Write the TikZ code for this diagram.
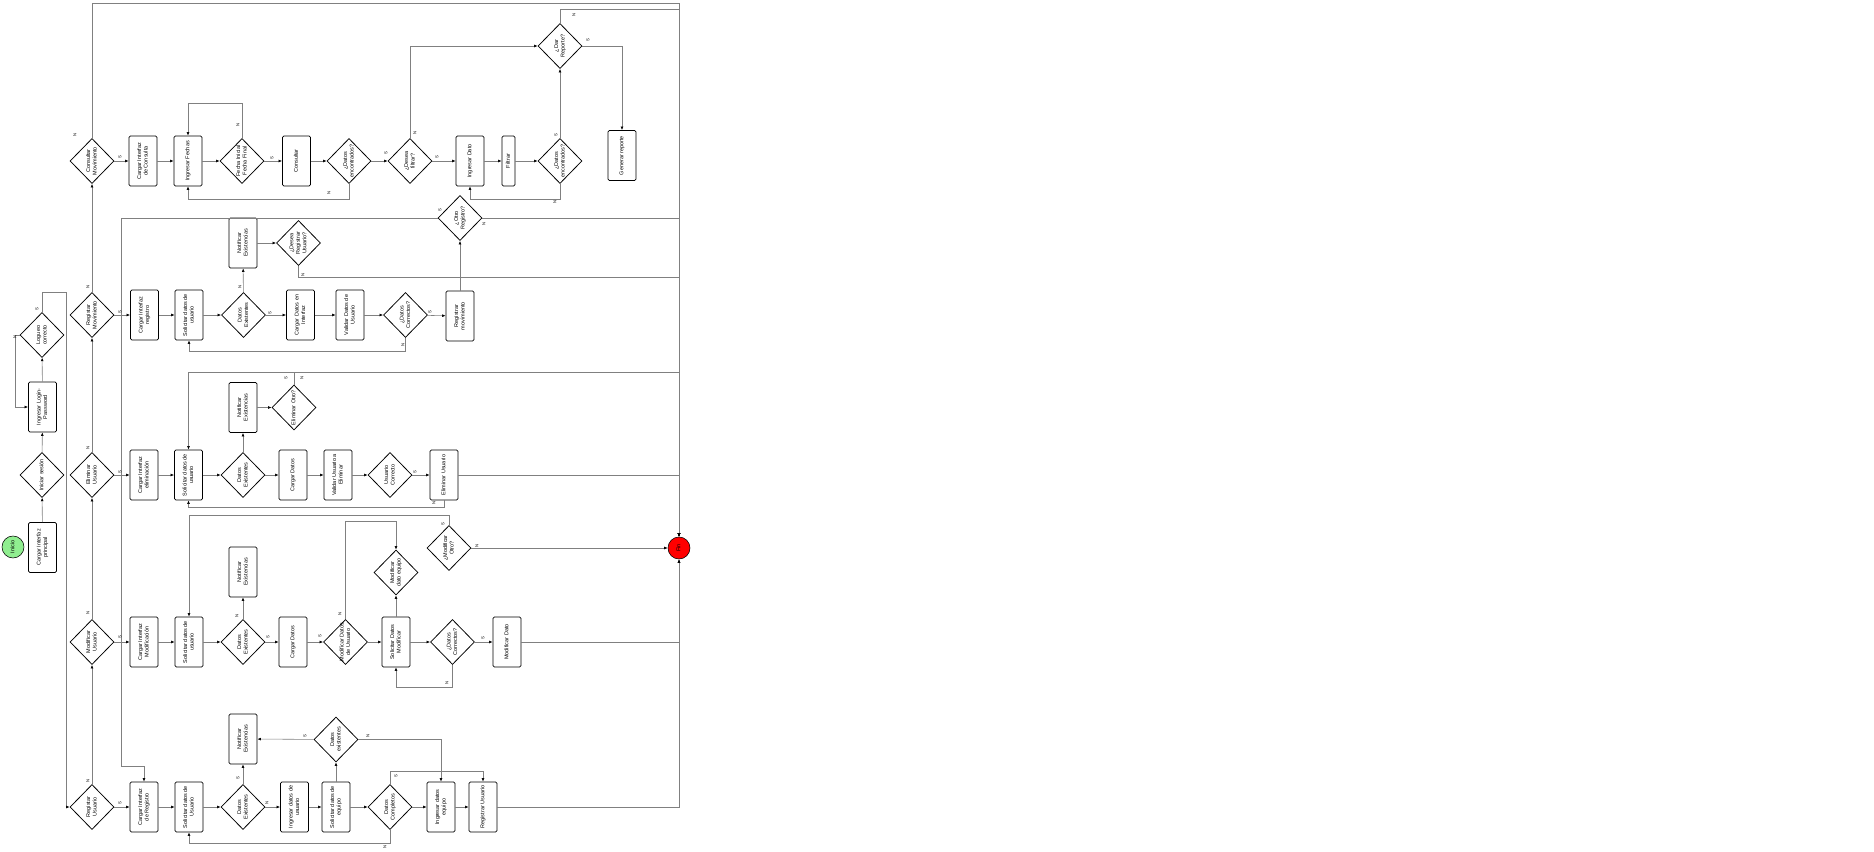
\documentclass[tikz,border=0pt]{standalone}
\usepackage{fontspec}
\setmainfont{Liberation Sans}
\usetikzlibrary{shapes.geometric,arrows.meta}
\definecolor{inigreen}{RGB}{144,238,144}
\definecolor{finred}{RGB}{255,0,0}
\newcommand{\vt}[1]{\makebox[0pt]{\raisebox{-.5\height}[0pt][0pt]{\rotatebox{90}{\begin{tabular}{@{}c@{}}#1\end{tabular}}}}}
\tikzset{
  proc/.style={draw, rectangle, rounded corners=2pt, minimum width=1.4cm, minimum height=2.5cm, inner sep=0pt, line width=1.1pt},
  dec/.style={draw, diamond, minimum width=2.2cm, minimum height=2.25cm, inner sep=0pt, line width=1.1pt},
  term/.style={draw, circle, minimum size=1.1cm, inner sep=0pt, line width=0.8pt},
  ln/.style={draw=gray, line width=0.8pt, -{Latex[length=5pt,width=4pt,color=black]}},
  yn/.style={font=\fontsize{6}{7}\selectfont, rotate=90, inner sep=0pt}
}
\begin{document}
\begin{tikzpicture}[x=0.05cm,y=-0.05cm,font=\fontsize{7.8}{9.3}\selectfont]
\useasboundingbox (0,0) rectangle (1874,852);
% login
\node[term, fill=inigreen] (ini) at (13,547) {\vt{Inicio}};
\node[proc] (cip) at (42.5,547.5) {\vt{Cargar Interfaz\\principal}};
\node[dec] (ise) at (42,475) {\vt{Iniciar sesión}};
\node[proc] (ilp) at (42.5,407) {\vt{Ingresar Login-\\Password}};
\node[dec] (lco) at (42,335) {\vt{Logueo\\correcto}};
% consultar
\node[dec] (cm) at (92,161) {\vt{Consultar\\Movimiento}};
\node[proc] (cic) at (143,161) {\vt{Cargar Interfaz\\de Consulta}};
\node[proc] (ife) at (188,161) {\vt{Ingresar Fechas}};
\node[dec] (ffe) at (242,161) {\vt{Fecha Inicial\\Fecha Final}};
\node[proc] (con) at (296.5,161) {\vt{Consultar}};
\node[dec] (den) at (349,161) {\vt{¿Datos\\encontrados?}};
\node[dec] (dfi) at (410,161) {\vt{¿Desea\\filtrar?}};
\node[proc] (ida) at (470,161) {\vt{Ingresar Dato}};
\node[proc, minimum width=0.65cm] (fil) at (508.5,161) {\vt{Filtrar}};
\node[dec] (den2) at (560,161) {\vt{¿Datos\\encontrados?}};
\node[dec] (dar) at (560,46) {\vt{¿Dar\\Reporte?}};
\node[proc] (gre) at (622,155.5) {\vt{Generar reporte}};
% registrar movimiento
\node[dec] (rm) at (92,315) {\vt{Registar\\Movimiento}};
\node[proc] (cir) at (144.5,315) {\vt{Cargar Interfaz\\registro}};
\node[proc] (sdu1) at (189,315) {\vt{Solicitar datos de\\usuario}};
\node[dec] (dex1) at (243.5,315) {\vt{Datos\\Existentes}};
\node[proc] (nex1) at (243,243) {\vt{Notificar\\Existencias}};
\node[dec] (drg) at (298.5,243) {\vt{¿Desea\\Registrar\\Usuario?}};
\node[proc] (cdi) at (300.5,315) {\vt{Cargar Datos en\\Interfaz}};
\node[proc] (vdu) at (350,315) {\vt{Validar Datos de\\Usuario}};
\node[dec] (dco1) at (405.5,315) {\vt{¿Datos\\Correctos?}};
\node[proc] (rmo) at (460,316) {\vt{Registrar\\movimiento}};
\node[dec] (otr) at (460,218) {\vt{¿Otro\\Registro?}};
% eliminar usuario
\node[dec] (eu) at (92,475) {\vt{Eliminar\\Usuario}};
\node[proc] (cie) at (144,475) {\vt{Cargar Interfaz\\eliminación}};
\node[proc] (sdu2) at (188.5,475) {\vt{Solicitar datos de\\usuario}};
\node[dec] (dex2) at (243,475) {\vt{Datos\\Existentes}};
\node[proc] (nex2) at (243,407.5) {\vt{Notificar\\Existencias}};
\node[dec] (eot) at (294,407.5) {\vt{Eliminar Otro?}};
\node[proc] (cda2) at (293,475) {\vt{Cargar Datos}};
\node[proc] (vue) at (338,475) {\vt{Validar Usuario a\\Eliminar}};
\node[dec] (uco) at (390,475) {\vt{Usuario\\Correcto}};
\node[proc] (elu) at (444,475) {\vt{Eliminar Usuario}};
% modificar usuario
\node[dec] (mu) at (92,642) {\vt{Modificar\\Usuario}};
\node[proc] (cim) at (144,642) {\vt{Cargar Interfaz\\Modificación}};
\node[proc] (sdu3) at (189,642) {\vt{Solicitar datos de\\usuario}};
\node[dec] (dex3) at (243,642) {\vt{Datos\\Existentes}};
\node[proc] (nex3) at (243,572) {\vt{Notificar\\Existencias}};
\node[proc] (cda3) at (293,642) {\vt{Cargar Datos}};
\node[dec] (mdu) at (345.5,642) {\vt{Modificar Datos\\de Usuario}};
\node[proc] (sdm) at (396,642) {\vt{Solicitar Datos\\Modificar}};
\node[dec] (mde) at (396,572.5) {\vt{Modificar\\dato equipo}};
\node[dec] (dco2) at (452.5,642) {\vt{¿Datos\\Correctos?}};
\node[proc] (mda) at (507,642) {\vt{Modificar Dato}};
\node[dec] (mot) at (449,548) {\vt{¿Modificar\\Otro?}};
% registrar usuario
\node[dec] (ru) at (92,807) {\vt{Registar\\Usuario}};
\node[proc] (cire) at (144,807) {\vt{Cargar Interfaz\\de Registro}};
\node[proc] (sdu4) at (189,807) {\vt{Solicitar datos de\\Usuario}};
\node[dec] (dex4) at (243,807) {\vt{Datos\\Existentes}};
\node[proc] (nex4) at (243,739) {\vt{Notificar\\Existencias}};
\node[proc] (idu) at (294.5,807) {\vt{Ingresar datos de\\usuario}};
\node[proc] (sde) at (336,807) {\vt{Solicitar datos de\\equipo}};
\node[dec] (dexe) at (336,739.5) {\vt{Datos\\existentes}};
\node[dec] (dcp) at (390,807) {\vt{Datos\\Completos}};
\node[proc] (ideq) at (441,807) {\vt{Ingresar datos\\equipo}};
\node[proc] (rus) at (483,807) {\vt{Registrar Usuario}};
% fin
\node[term, fill=finred] (fin) at (679,548) {\vt{Fin}};

% login
\draw[ln] (cip) -- (ise);
\draw[ln] (ise) -- (ilp);
\draw[ln] (ilp) -- (lco);
\draw[ln] (lco.west) -- ++(-4,0) |- (ilp.west);
\draw[ln] (lco.north) -- ++(0,-20) -| (66,807) -- (ru.west);
% columna de menu
\draw[ln] (ru) -- (mu);
\draw[ln] (mu) -- (eu);
\draw[ln] (eu) -- (rm);
\draw[ln] (rm) -- (cm);
\draw[ln] (cm.north) |- (679,3) -- (fin.north);
% consultar
\draw[ln] (cm) -- (cic);
\draw[ln] (cic) -- (ife);
\draw[ln] (ife) -- (ffe);
\draw[ln] (ffe) -- (con);
\draw[ln] (ffe.north) -- ++(0,-35) -| (ife.north);
\draw[ln] (con) -- (den);
\draw[ln] (den) -- (dfi);
\draw[ln] (den.south) -- ++(0,15) -| (ife.south);
\draw[ln] (dfi) -- (ida);
\draw[ln] (dfi.north) |- (dar.west);
\draw[ln] (ida) -- (fil);
\draw[ln] (fil) -- (den2);
\draw[ln] (den2) -- (dar);
\draw[ln] (den2.south) -- ++(0,15) -| (ida.south);
\draw[ln] (dar.east) -| (gre.north);
\draw[ln] (dar.north) |- (679,9) -- (fin.north);
% registrar movimiento
\draw[ln] (rm) -- (cir);
\draw[ln] (cir) -- (sdu1);
\draw[ln] (sdu1) -- (dex1);
\draw[ln] (dex1) -- (nex1);
\draw[ln] (nex1) -- (drg);
\draw[ln] (drg.south) |- (679,277) -- (fin.north);
\draw[ln] (dex1) -- (cdi);
\draw[ln] (cdi) -- (vdu);
\draw[ln] (vdu) -- (dco1);
\draw[ln] (dco1) -- (rmo);
\draw[ln] (dco1.south) -- ++(0,13) -| (sdu1.south);
\draw[ln] (rmo) -- (otr);
\draw[ln] (otr.west) -| (121,766) -| (cire.north);
\draw[ln] (otr.east) -| (fin.north);
% eliminar usuario
\draw[ln] (eu) -- (cie);
\draw[ln] (cie) -- (sdu2);
\draw[ln] (sdu2) -- (dex2);
\draw[ln] (dex2) -- (nex2);
\draw[ln] (nex2) -- (eot);
\draw[ln] (eot.north) -- ++(0,-12) -| (sdu2.north);
\draw[ln] (eot.north) -- ++(0,-12) -| (fin.north);
\draw[ln] (dex2) -- (cda2);
\draw[ln] (cda2) -- (vue);
\draw[ln] (vue) -- (uco);
\draw[ln] (uco) -- (elu);
\draw[ln] (elu.south) -- ++(0,7) -| (sdu2.south);
\draw[ln] (elu.east) -| (fin.north);
% modificar usuario
\draw[ln] (mu) -- (cim);
\draw[ln] (cim) -- (sdu3);
\draw[ln] (sdu3) -- (dex3);
\draw[ln] (dex3) -- (nex3);
\draw[ln] (dex3) -- (cda3);
\draw[ln] (cda3) -- (mdu);
\draw[ln] (mdu) -- (sdm);
\draw[ln] (mdu.north) -- ++(0,-98) -| (mde.north);
\draw[ln] (sdm) -- (mde);
\draw[ln] (sdm) -- (dco2);
\draw[ln] (dco2) -- (mda);
\draw[ln] (dco2.south) -- ++(0,22) -| (sdm.south);
\draw[ln] (mot.north) -- ++(0,-10) -| (sdu3.north);
\draw[ln] (mot) -- (fin);
\draw[ln] (mda.east) -| (fin.south);
% registrar usuario
\draw[ln] (ru) -- (cire);
\draw[ln] (cire) -- (sdu4);
\draw[ln] (sdu4) -- (dex4);
\draw[ln] (dex4) -- (nex4);
\draw[ln] (dex4) -- (idu);
\draw[ln] (idu) -- (sde);
\draw[ln] (sde) -- (dexe);
\draw[ln] (dexe) -- (nex4);
\draw[ln] (dexe.east) -| (ideq.north);
\draw[ln] (sde) -- (dcp);
\draw[ln] (dcp) -- (ideq);
\draw[ln] (ideq) -- (rus);
\draw[ln] (dcp.north) -- ++(0,-13) -| (rus.north);
\draw[ln] (dcp.south) -- ++(0,13) -| (sdu4.south);
\draw[ln] (rus.east) -| (fin.south);

% etiquetas S / N
\foreach \x/\y/\t [count=\i] in {75/135/N, 120/157/S, 238/125/N, 272/158/S, 329/193/N, 386/153/S,
  437/157/S, 415/133/N, 556/135/S, 555/202/N, 588/40/S, 574/15/N,
  88/287/N, 120/312/S, 240/287/N, 270/313/S, 403/345/N, 430/312/S, 440/210/S, 484/224/N, 303/275/N,
  37/309/S, 15/337/N,
  88/448/N, 120/472/S, 286/378/S, 302/378/N, 415/472/S, 434/503/N,
  88/613/N, 120/637/S, 237/616/N, 268/637/S, 320/636/S, 340/614/N, 447/683/N, 483/638/S, 443/524/S, 477/546/N,
  88/781/N, 120/803/S, 238/778/S, 267/803/N, 305/736/S, 368/736/N, 396/776/S, 385/847/N}
  \node[yn] (lb\i) at (\x,\y) {\t};
\end{tikzpicture}
\end{document}
